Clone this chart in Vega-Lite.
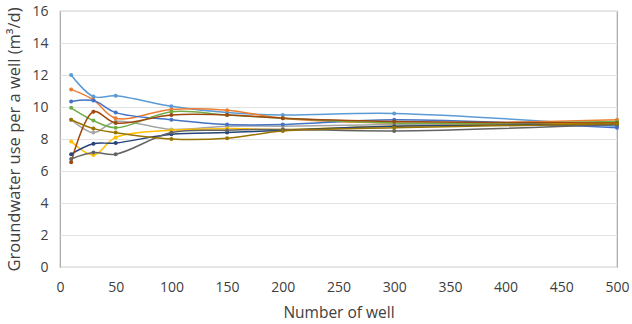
{
  "$schema": "https://vega.github.io/schema/vega-lite/v6.json",
  "width": 557,
  "height": 256,
  "autosize": {"type": "none"},
  "padding": {"left": 60, "top": 11, "right": 15, "bottom": 57},
  "background": "white",
  "config": {
    "view": {"stroke": "#a6a6a6", "strokeWidth": 1.2},
    "font": "Open Sans"
  },
  "data": {
    "values": [
      {"s": "s1", "n": 10, "v": 12.0}, {"s": "s1", "n": 30, "v": 10.65}, {"s": "s1", "n": 50, "v": 10.7}, {"s": "s1", "n": 100, "v": 10.05}, {"s": "s1", "n": 150, "v": 9.65}, {"s": "s1", "n": 200, "v": 9.5}, {"s": "s1", "n": 300, "v": 9.6}, {"s": "s1", "n": 500, "v": 8.8},
      {"s": "s2", "n": 10, "v": 11.1}, {"s": "s2", "n": 30, "v": 10.45}, {"s": "s2", "n": 50, "v": 9.3}, {"s": "s2", "n": 100, "v": 9.85}, {"s": "s2", "n": 150, "v": 9.8}, {"s": "s2", "n": 200, "v": 9.3}, {"s": "s2", "n": 300, "v": 9.0}, {"s": "s2", "n": 500, "v": 9.2},
      {"s": "s3", "n": 10, "v": 9.2}, {"s": "s3", "n": 30, "v": 8.4}, {"s": "s3", "n": 50, "v": 9.1}, {"s": "s3", "n": 100, "v": 8.6}, {"s": "s3", "n": 150, "v": 8.8}, {"s": "s3", "n": 200, "v": 8.8}, {"s": "s3", "n": 300, "v": 8.9}, {"s": "s3", "n": 500, "v": 9.0},
      {"s": "s4", "n": 10, "v": 7.85}, {"s": "s4", "n": 30, "v": 7.0}, {"s": "s4", "n": 50, "v": 8.1}, {"s": "s4", "n": 100, "v": 8.55}, {"s": "s4", "n": 150, "v": 8.65}, {"s": "s4", "n": 200, "v": 8.6}, {"s": "s4", "n": 300, "v": 8.8}, {"s": "s4", "n": 500, "v": 9.0},
      {"s": "s5", "n": 10, "v": 10.35}, {"s": "s5", "n": 30, "v": 10.4}, {"s": "s5", "n": 50, "v": 9.65}, {"s": "s5", "n": 100, "v": 9.2}, {"s": "s5", "n": 150, "v": 8.9}, {"s": "s5", "n": 200, "v": 8.9}, {"s": "s5", "n": 300, "v": 9.2}, {"s": "s5", "n": 500, "v": 8.7},
      {"s": "s6", "n": 10, "v": 9.95}, {"s": "s6", "n": 30, "v": 9.15}, {"s": "s6", "n": 50, "v": 8.7}, {"s": "s6", "n": 100, "v": 9.7}, {"s": "s6", "n": 150, "v": 9.5}, {"s": "s6", "n": 200, "v": 9.3}, {"s": "s6", "n": 300, "v": 9.0}, {"s": "s6", "n": 500, "v": 9.1},
      {"s": "s7", "n": 10, "v": 7.05}, {"s": "s7", "n": 30, "v": 7.7}, {"s": "s7", "n": 50, "v": 7.75}, {"s": "s7", "n": 100, "v": 8.3}, {"s": "s7", "n": 150, "v": 8.4}, {"s": "s7", "n": 200, "v": 8.55}, {"s": "s7", "n": 300, "v": 8.8}, {"s": "s7", "n": 500, "v": 8.9},
      {"s": "s8", "n": 10, "v": 6.55}, {"s": "s8", "n": 30, "v": 9.7}, {"s": "s8", "n": 50, "v": 9.0}, {"s": "s8", "n": 100, "v": 9.5}, {"s": "s8", "n": 150, "v": 9.5}, {"s": "s8", "n": 200, "v": 9.3}, {"s": "s8", "n": 300, "v": 9.1}, {"s": "s8", "n": 500, "v": 9.0},
      {"s": "s9", "n": 10, "v": 6.75}, {"s": "s9", "n": 30, "v": 7.15}, {"s": "s9", "n": 50, "v": 7.05}, {"s": "s9", "n": 100, "v": 8.4}, {"s": "s9", "n": 150, "v": 8.55}, {"s": "s9", "n": 200, "v": 8.6}, {"s": "s9", "n": 300, "v": 8.5}, {"s": "s9", "n": 500, "v": 8.9},
      {"s": "s10", "n": 10, "v": 9.2}, {"s": "s10", "n": 30, "v": 8.65}, {"s": "s10", "n": 50, "v": 8.4}, {"s": "s10", "n": 100, "v": 8.0}, {"s": "s10", "n": 150, "v": 8.05}, {"s": "s10", "n": 200, "v": 8.5}, {"s": "s10", "n": 300, "v": 8.7}, {"s": "s10", "n": 500, "v": 8.95}
    ]
  },
  "encoding": {
    "x": {
      "field": "n", "type": "quantitative",
      "scale": {"domain": [0, 500], "nice": false, "zero": true},
      "axis": {
        "title": "Number of well", "values": [0, 50, 100, 150, 200, 250, 300, 350, 400, 450, 500],
        "grid": false, "ticks": false, "domain": false, "labelFlush": false, "labelOverlap": false,
        "labelFontSize": 14, "labelColor": "#404040", "labelPadding": 13,
        "titleFontSize": 15.5, "titleFontWeight": "normal", "titleColor": "#404040", "titlePadding": 11
      }
    },
    "y": {
      "field": "v", "type": "quantitative",
      "scale": {"domain": [0, 16], "nice": false},
      "axis": {
        "title": "Groundwater use per a well (m³/d)", "values": [0, 2, 4, 6, 8, 10, 12, 14, 16],
        "grid": true, "gridColor": "#e3e3e3", "ticks": false, "domain": false, "labelFlush": false,
        "labelFontSize": 14, "labelColor": "#404040", "labelPadding": 12,
        "titleFontSize": 16.5, "titleFontWeight": "normal", "titleColor": "#404040", "titlePadding": 9
      }
    },
    "color": {
      "field": "s", "type": "nominal", "legend": null,
      "scale": {
        "domain": ["s1", "s2", "s3", "s4", "s5", "s6", "s7", "s8", "s9", "s10"],
        "range": ["#5B9BD5", "#ED7D31", "#A5A5A5", "#FFC000", "#4472C4", "#70AD47", "#264478", "#9E480E", "#636363", "#997300"]
      }
    }
  },
  "layer": [
    {"mark": {"type": "line", "interpolate": "catmull-rom", "strokeWidth": 1.5}},
    {"mark": {"type": "circle", "size": 16, "opacity": 1}}
  ]
}
